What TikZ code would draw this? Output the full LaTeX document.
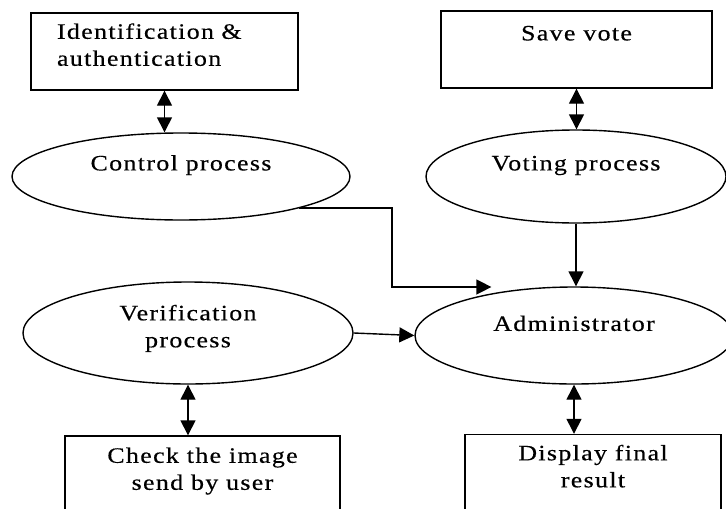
\documentclass[tikz,border=0pt]{standalone}
\usepackage{fontspec}
\setmainfont{Liberation Serif}[FakeStretch=1.18,LetterSpace=6,FakeBold=0.4]
\usetikzlibrary{shapes.geometric, arrows.meta, calc}

\begin{document}
\begin{tikzpicture}[x=0.5pt, y=-0.5pt, line width=0.7pt,
    >={Triangle[length=7.5pt, width=7.5pt]},
    every node/.style={font=\fontsize{11}{13.5}\selectfont},
    databox/.style={draw, rectangle, align=center, text height=8pt},
    twoline/.style={text height=21.5pt},
    process/.style={draw, ellipse, align=center, inner sep=0pt, text height=8pt}]
\useasboundingbox (0,0) rectangle (726,508);
\clip (0,0) rectangle (726,508);

% Stores at the top
\node[databox, align=left, text width=107.5pt, inner xsep=13pt,
    minimum height=38.5pt, text depth=20.7pt] (ident) at (164.5,51.5)
    {Identification \&\\authentication};
\node[databox, minimum width=135.5pt, minimum height=38.5pt, text depth=17.1pt]
    (save) at (576.5,49.5) {Save vote};

% Processes
\node[process, minimum width=169pt, minimum height=43.5pt, text depth=14.1pt]
    (ctrl) at (181,176.5) {Control process};
\node[process, minimum width=150pt, minimum height=46.5pt, text depth=14.1pt]
    (vote) at (576,176.5) {Voting process};
\node[process, twoline, minimum width=165pt, minimum height=51pt, text depth=7.2pt]
    (verif) at (188,333) {Verification\\process};
\node[process, minimum width=159pt, minimum height=48.5pt, text depth=12.6pt]
    (admin) at (574,335.5) {Administrator};

% Stores at the bottom
\node[databox, twoline, minimum width=137.5pt, minimum height=44.5pt, text depth=12.2pt]
    (check) at (202.5,480.5) {Check the image\\send by user};
\node[databox, twoline, minimum width=128pt, minimum height=45pt, text depth=13.7pt]
    (disp) at (593,479.5) {Display final\\result};

% Connectors
\coordinate (bend) at (392,287);
\draw[<->] (ident.south) -- (ident.south |- ctrl.north);
\draw[<->] (save.south) -- (save.south |- vote.north);
\draw[->] (ctrl.-15) -| (bend) -- (bend -| admin.153);
\draw[->] (vote.south) -- (vote.south |- admin.north);
\draw[->] (verif.east) -- (admin.west);
\draw[<->] (verif.south) -- (verif.south |- check.north);
\draw[<->] (admin.south) -- (admin.south |- disp.north);
\end{tikzpicture}
\end{document}
